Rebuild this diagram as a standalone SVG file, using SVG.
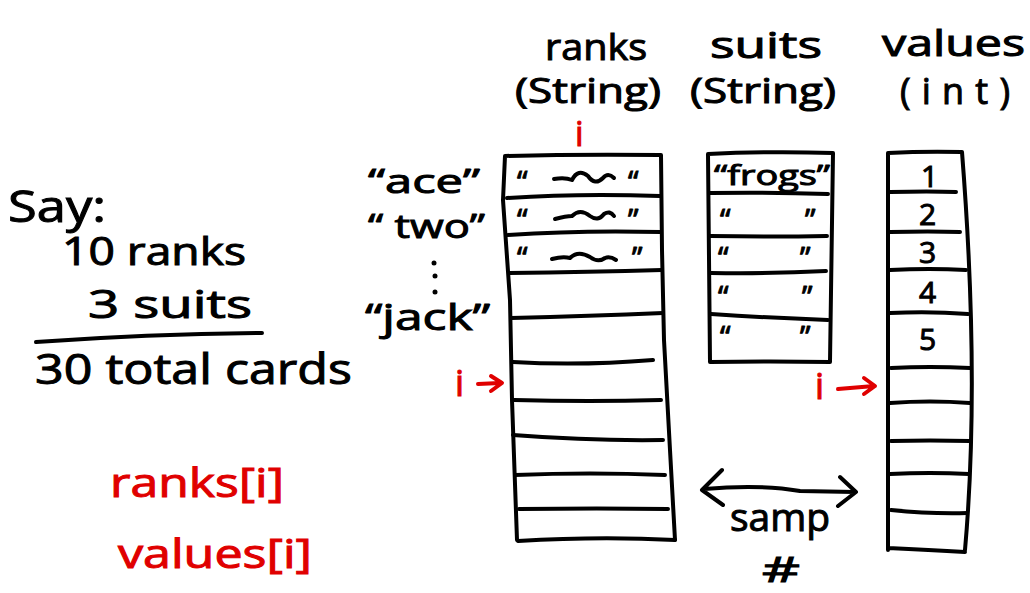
<svg xmlns="http://www.w3.org/2000/svg" width="1030" height="593" viewBox="0 0 1030 593">
  <style>
    .ink { fill: none; stroke: #000; stroke-width: 4; stroke-linecap: round; stroke-linejoin: round; }
    .red { fill: none; stroke: #e00000; stroke-width: 4; stroke-linecap: round; stroke-linejoin: round; }
    .t { font-family: "Open Sans", "DejaVu Sans", sans-serif; fill: #000; stroke: #000; stroke-width: 1; }
    .tr { font-family: "Open Sans", "DejaVu Sans", sans-serif; fill: #e00000; stroke: #e00000; stroke-width: 1; }
  </style>
  <rect width="1030" height="593" fill="#fff"/>

  <!-- left-hand arithmetic -->
  <g id="note">
    <text class="t" x="8" y="222" font-size="44" textLength="98" lengthAdjust="spacingAndGlyphs">Say:</text>
    <text class="t" x="62" y="265" font-size="38" textLength="184" lengthAdjust="spacingAndGlyphs">10 ranks</text>
    <text class="t" x="88" y="318" font-size="38" textLength="164" lengthAdjust="spacingAndGlyphs">3 suits</text>
    <path class="ink" d="M36,342 Q150,334 262,333"/>
    <text class="t" x="35" y="384" font-size="42" textLength="317" lengthAdjust="spacingAndGlyphs">30 total cards</text>
  </g>

  <g id="index-exprs">
    <text class="tr" x="110" y="497" font-size="40" textLength="174" lengthAdjust="spacingAndGlyphs">ranks[i]</text>
    <text class="tr" x="118" y="568" font-size="40" textLength="194" lengthAdjust="spacingAndGlyphs">values[i]</text>
  </g>

  <!-- column headings -->
  <g id="headers">
    <text class="t" x="545" y="60" font-size="36" textLength="102" lengthAdjust="spacingAndGlyphs">ranks</text>
    <text class="t" x="515" y="103" font-size="34" textLength="146" lengthAdjust="spacingAndGlyphs">(String)</text>
    <text class="t" x="710" y="58" font-size="36" textLength="112" lengthAdjust="spacingAndGlyphs">suits</text>
    <text class="t" x="690" y="103" font-size="34" textLength="146" lengthAdjust="spacingAndGlyphs">(String)</text>
    <text class="t" x="882" y="56" font-size="36" textLength="143" lengthAdjust="spacingAndGlyphs">values</text>
    <text class="t" x="900" y="104" font-size="36" textLength="110" lengthAdjust="spacing">(int)</text>
  </g>

  <!-- ranks array: 10 cells -->
  <g id="ranks">
    <path class="ink" d="M505,156 Q580,154 661,155 M505,156 L503,200 L510,300 L512,400 L517,540 M661,155 L662,250 L664,340 L670,450 L675,540"/>
    <path class="ink" d="M507,198 Q580,193 660,196 M508,235 Q580,230 661,232 M509,273 Q590,272 662,270 M511,318 Q590,316 663,313 M513,362 Q580,366 653,360 M514,400 Q590,402 661,400 M513,435 Q590,441 663,440 M515,475 Q590,472 665,475 M519,509 Q600,508 668,509 M518,541 Q600,536 675,540"/>
    <text class="t" x="517" y="192" font-size="30">“</text>
    <text class="t" x="628" y="192" font-size="30">“</text>
    <text class="t" x="517" y="230" font-size="30">“</text>
    <text class="t" x="628" y="230" font-size="30">”</text>
    <text class="t" x="517" y="268" font-size="30">“</text>
    <text class="t" x="632" y="268" font-size="30">”</text>
    <path class="ink" d="M554,179 Q565,177 572,180 Q578,168 588,176 Q595,186 603,178 Q608,172 614,178"/>
    <path class="ink" d="M555,219 Q566,216 572,216 Q580,208 590,216 Q598,222 604,214 Q610,210 614,216"/>
    <path class="ink" d="M552,259 Q563,256 570,258 Q578,250 590,257 Q598,263 605,258 Q610,256 616,260"/>
  </g>

  <!-- rank labels beside the array -->
  <g id="rank-labels">
    <text class="t" x="368" y="193" font-size="33" textLength="112" lengthAdjust="spacingAndGlyphs">“ace”</text>
    <text class="t" x="368" y="238" font-size="33" textLength="117" lengthAdjust="spacingAndGlyphs">“ two”</text>
    <circle cx="434" cy="263" r="2.5"/>
    <circle cx="435" cy="276" r="2.5"/>
    <circle cx="435" cy="292" r="2.5"/>
    <text class="t" x="365" y="330" font-size="36" textLength="125" lengthAdjust="spacingAndGlyphs">“jack”</text>
  </g>

  <!-- suits array: 5 cells -->
  <g id="suits">
    <path class="ink" d="M708,154 Q770,151 833,153 M708,154 L710,362 M833,153 L830,362 M710,362 Q770,361 830,362"/>
    <path class="ink" d="M710,193 Q770,192 828,194 M710,236 Q770,237 827,236 M711,273 Q770,274 826,271 M711,314 Q770,318 828,320"/>
    <text class="t" x="714" y="185" font-size="28" textLength="116" lengthAdjust="spacingAndGlyphs">“frogs”</text>
    <text class="t" x="720" y="230" font-size="30">“</text>
    <text class="t" x="805" y="230" font-size="30">”</text>
    <text class="t" x="718" y="268" font-size="30">“</text>
    <text class="t" x="800" y="268" font-size="30">”</text>
    <text class="t" x="718" y="307" font-size="30">“</text>
    <text class="t" x="802" y="307" font-size="30">”</text>
    <text class="t" x="720" y="347" font-size="30">“</text>
    <text class="t" x="800" y="347" font-size="30">”</text>
  </g>

  <!-- values array: 10 cells -->
  <g id="values">
    <path class="ink" d="M888,153 Q925,151 962,152 M888,153 L888,550 M962,152 Q980,380 965,550 M888,548 Q930,550 965,552"/>
    <path class="ink" d="M890,192 Q930,191 956,192 M890,232 Q930,231 960,232 M890,270 Q930,268 966,270 M890,313 Q930,311 968,314 M891,368 Q930,366 970,368 M890,403 Q930,400 970,403 M891,441 Q930,440 970,441 M890,474 Q930,472 969,474 M891,510 Q930,514 967,513"/>
    <text class="t" x="921" y="187" font-size="30">1</text>
    <text class="t" x="919" y="225" font-size="30">2</text>
    <text class="t" x="919" y="263" font-size="30">3</text>
    <text class="t" x="919" y="303" font-size="30">4</text>
    <text class="t" x="919" y="350" font-size="30">5</text>
  </g>

  <!-- red index markers -->
  <g id="index-markers">
    <text class="tr" x="575" y="146" font-size="34">i</text>
    <text class="tr" x="455" y="396" font-size="36">i</text>
    <path class="red" d="M478,384 L500,383 M491,376 L502,383 L491,391"/>
    <text class="tr" x="815" y="399" font-size="36">i</text>
    <path class="red" d="M838,389 L874,386 M864,378 L875,386 L864,394"/>
  </g>

  <!-- connectors -->
  <g id="connectors">
    <path class="ink" d="M704,489 Q760,484 800,491 L855,492 M722,470 L702,490 L723,505 M840,477 L856,492 L838,506"/>
  </g>

  <g id="same-label">
    <text class="t" x="730" y="531" font-size="38" textLength="100" lengthAdjust="spacingAndGlyphs">samp</text>
    <text class="t" x="762" y="582" font-size="34" textLength="38" lengthAdjust="spacingAndGlyphs">#</text>
  </g>
</svg>
